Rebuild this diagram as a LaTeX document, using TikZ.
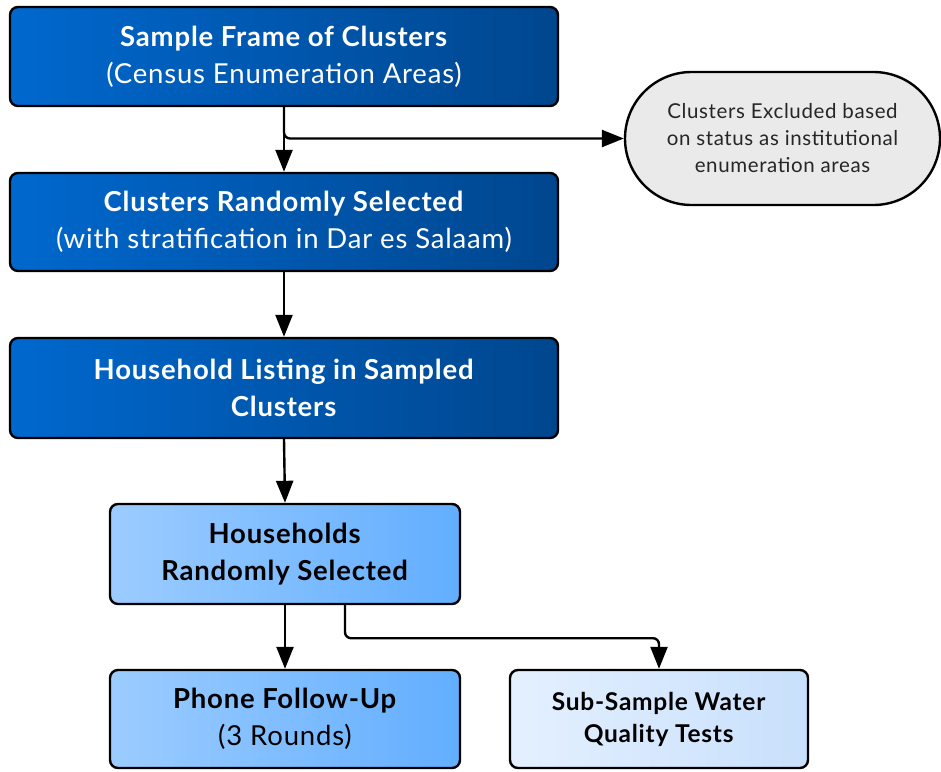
\documentclass[tikz,border=0pt]{standalone}
\usepackage{fontspec}
\setmainfont{Lato}[LetterSpace=3]
\usetikzlibrary{arrows.meta,shapes.misc}
\definecolor{darkL}{RGB}{0,104,206}
\definecolor{darkR}{RGB}{0,70,142}
\definecolor{midL}{RGB}{156,204,255}
\definecolor{midR}{RGB}{98,174,255}
\definecolor{paleL}{RGB}{228,240,255}
\definecolor{paleR}{RGB}{200,224,252}
\definecolor{greyfill}{RGB}{234,234,234}
\tikzset{
  box/.style={draw=black, line width=2.4pt, rounded corners=8pt, align=center, inner sep=0pt},
  darkbox/.style={box, left color=darkL, right color=darkR, text=white, font=\fontsize{27.5}{37}\selectfont},
  midbox/.style={box, left color=midL, right color=midR, text=black, font=\fontsize{27.5}{37}\selectfont},
  palebox/.style={box, left color=paleL, right color=paleR, text=black, font=\fontsize{24.5}{32}\selectfont},
  sidebox/.style={draw=black, line width=2.4pt, rounded rectangle, fill=greyfill, align=center, inner sep=0pt, font=\fontsize{20.5}{27}\selectfont, text=black!85},
  link/.style={line width=2.4pt, -{Triangle[length=22pt,width=17pt]}},
}
\begin{document}
\begin{tikzpicture}[x=1pt,y=1pt]
  \useasboundingbox (0,0) rectangle (941,-771);

  \node[darkbox, minimum width=548pt, minimum height=99pt] (frame) at (284,-56.5)
    {\textbf{Sample Frame of Clusters}\\(Census Enumeration Areas)};
  \node[darkbox, minimum width=548pt, minimum height=98pt] (rand) at (284,-222)
    {\textbf{Clusters Randomly Selected}\\(with stratification in Dar es Salaam)};
  \node[darkbox, minimum width=548pt, minimum height=100pt] (list) at (284,-388)
    {\textbf{Household Listing in Sampled}\\\textbf{Clusters}};
  \node[midbox, minimum width=350pt, minimum height=100pt] (hh) at (285,-554)
    {\textbf{Households}\\\textbf{Randomly Selected}};
  \node[midbox, minimum width=350pt, minimum height=98pt] (phone) at (285,-719)
    {\textbf{Phone Follow-Up}\\(3 Rounds)};
  \node[palebox, minimum width=298pt, minimum height=98pt] (water) at (659,-719)
    {\textbf{Sub-Sample Water}\\\textbf{Quality Tests}};
  \node[sidebox, minimum width=315pt, minimum height=133pt] (excl) at (782.5,-138.5)
    {Clusters Excluded based\\on status as institutional\\enumeration areas};

  \draw[link] (frame.south) -- (rand.north);
  \draw[link, rounded corners=6pt] (frame.south) |- (excl.west);
  \draw[link] (rand.south) -- (list.north);
  \draw[link] (list.south) -- (hh.north);
  \draw[link] (hh.south) -- (phone.north);
  \draw[link, rounded corners=6pt] ([xshift=60pt]hh.south) -- ++(0,-33) -| (water.north);
\end{tikzpicture}
\end{document}
